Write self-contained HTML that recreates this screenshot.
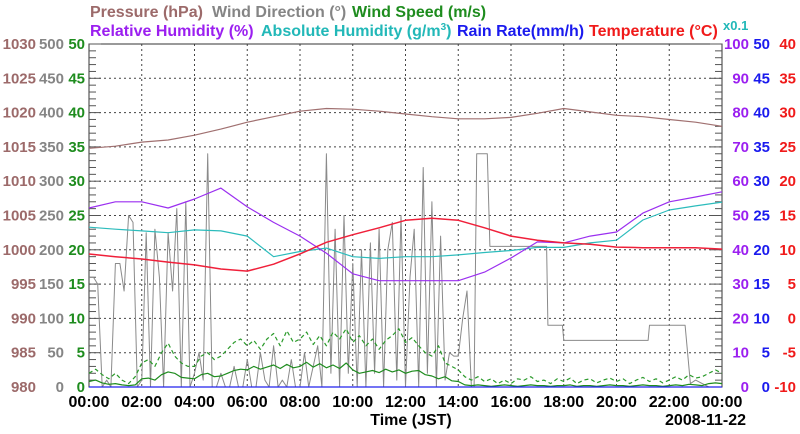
<!DOCTYPE html>
<html><head><meta charset="utf-8"><style>
html,body{margin:0;padding:0;background:#fff;}
svg{display:block;font-family:"Liberation Sans",sans-serif;font-weight:bold;}
</style></head><body>
<svg id="chart" width="800" height="434" viewBox="0 0 800 434">
<g font-size="16">
<text x="90" y="17" fill="#9c6a6a">Pressure (hPa)</text>
<text x="212" y="17" fill="#858585">Wind Direction (°)</text>
<text x="352" y="17" fill="#1e8c1e">Wind Speed (m/s)</text>
</g>
<g font-size="16">
<text x="90" y="36" fill="#9b1ff0">Relative Humidity (%)</text>
<text x="261" y="36" fill="#22b8b8">Absolute Humidity (g/m<tspan dy="-6" font-size="10">3</tspan><tspan dy="6">)</tspan></text>
<text x="457" y="36" fill="#1a1aee">Rain Rate(mm/h)</text>
<text x="589" y="36" fill="#f01a1a">Temperature (°C)</text>
<text x="723" y="30" fill="#22b8b8" font-size="13">x0.1</text>
</g>
<g id="grid"></g>
<g id="axes"></g>
<g id="series"></g>
<g id="labels" font-size="15"></g>
<text x="411" y="425" text-anchor="middle" font-size="16" fill="#000">Time (JST)</text>
<text x="746" y="425" text-anchor="end" font-size="16" fill="#000">2008-11-22</text>
</svg>
<script>
const hours = [0,1,2,3,4,5,6,7,8,9,10,11,12,13,14,15,16,17,18,19,20,21,22,23,24];
const pressure = [1014.8,1015.1,1015.7,1016.0,1016.7,1017.6,1018.6,1019.4,1020.2,1020.6,1020.5,1020.2,1019.8,1019.4,1019.1,1019.1,1019.3,1019.9,1020.6,1020.1,1019.6,1019.4,1019.0,1018.6,1018.0];
const relHumidity = [52.2,54,54,52.2,54.8,58,52.5,48,44,39,33,31,31,31,31,33.5,37.6,42.3,42,44,45.2,50.7,54,55.4,56.9];
const absHumidity = [4.66,4.6,4.55,4.5,4.58,4.55,4.4,3.8,3.95,4.05,3.8,3.75,3.8,3.8,3.85,3.92,3.98,4.07,4.07,4.2,4.28,4.87,5.16,5.28,5.39];
const temperature = [9.39,9.0,8.66,8.2,7.8,7.2,6.9,7.9,9.4,11.1,12.2,13.2,14.3,14.6,14.3,13.2,12.0,11.4,11.0,10.8,10.4,10.3,10.3,10.3,10.1];
const rainRate = [0,0,0,0,0,0,0,0,0,0,0,0,0,0,0,0,0,0,0,0,0,0,0,0,0];
const windTimes = [0,0.17,0.33,0.5,0.67,0.83,1.0,1.17,1.33,1.5,1.67,1.83,2.0,2.17,2.33,2.5,2.67,2.83,3.0,3.17,3.33,3.5,3.67,3.83,4.0,4.17,4.33,4.5,4.67,4.83,5.0,5.17,5.33,5.5,5.67,5.83,6.0,6.17,6.33,6.5,6.67,6.83,7.0,7.17,7.33,7.5,7.67,7.83,8.0,8.17,8.33,8.5,8.67,8.83,9.0,9.17,9.33,9.5,9.67,9.83,10.0,10.17,10.33,10.5,10.67,10.83,11.0,11.17,11.33,11.5,11.67,11.83,12.0,12.17,12.33,12.5,12.67,12.83,13.0,13.17,13.33,13.5,13.67,13.83,14.0,14.17,14.33,14.5,14.6,14.7,15.1,15.2,17.35,17.4,17.95,18.0,21.2,21.25,22.6,22.8,23.0,23.5,24.0];
const windDir = [160,160,150,0,10,0,180,180,140,250,240,0,10,225,0,230,160,0,225,140,260,0,270,0,20,50,10,340,0,0,20,0,0,30,0,0,40,0,0,50,10,0,60,0,10,0,40,0,0,50,0,30,60,0,340,20,230,0,250,20,180,0,200,0,210,20,230,0,200,240,10,250,0,160,230,0,320,20,270,0,220,10,50,45,45,100,140,0,0,340,340,205,205,90,90,68,68,90,90,5,10,0,0];
const speedTimes = Array.from({length:97},(_,i)=>i*0.25);
const windSpeedAvg = [0.8,1.0,0.6,0.4,0.5,0.3,0.2,0.3, 1.2,1.3,1.0,1.8,2.2,2.0,1.4,1.3, 1.2,1.8,2.0,1.5,1.6,2.0,2.4,2.6, 2.5,3.0,2.6,2.9,3.2,2.7,3.3,2.8, 3.0,3.6,2.9,3.4,2.8,3.2,2.7,3.5, 2.5,2.0,2.2,2.4,2.1,2.6,2.2,2.5, 2.0,2.3,2.4,1.8,1.6,1.2,1.5,0.9, 0.8,0.3,0.2,0.3,0.2,0.1,0.2,0.3, 0.2,0.1,0.2,0.3,0.2,0.2,0.1,0.2, 0.2,0.3,0.1,0.2,0.2,0.1,0.2,0.3, 0.2,0.2,0.1,0.2,0.3,0.2,0.2,0.1, 0.2,0.3,0.2,0.4,0.3,0.2,0.5,0.6, 0.5];
const windSpeedMax = [2.0,2.6,1.8,1.2,2.0,1.0,0.5,1.5, 3.5,4.0,3.0,5.0,6.4,4.5,3.5,3.0, 3.0,4.5,5.0,4.0,4.5,5.5,6.5,7.0, 6.0,6.8,5.5,7.0,7.8,6.0,8.2,6.5, 7.0,8.0,6.2,7.5,6.0,8.0,7.0,8.5, 6.5,7.5,6.0,7.0,5.5,6.8,7.5,8.5, 6.5,7.2,6.0,5.0,4.5,6.0,3.5,3.0, 2.5,1.5,1.0,1.5,0.8,1.2,0.5,1.0, 0.5,1.2,1.0,1.5,0.8,1.0,0.5,1.2, 0.8,1.3,0.5,1.0,1.2,0.6,1.0,1.3, 0.8,1.2,0.5,1.0,1.4,0.8,1.2,0.6, 1.0,1.5,1.0,1.8,1.3,1.5,2.0,2.5, 2.0];
const xTickLabels = ["00:00","02:00","04:00","06:00","08:00","10:00","12:00","14:00","16:00","18:00","20:00","22:00","00:00"];
const pressTicks = [980,985,990,995,1000,1005,1010,1015,1020,1025,1030];
const dirTicks = [0,50,100,150,200,250,300,350,400,450,500];
const spdTicks = [0,5,10,15,20,25,30,35,40,45,50];
const rhTicks = [0,10,20,30,40,50,60,70,80,90,100];
const rainTicks = [0,5,10,15,20,25,30,35,40,45,50];
const tempTicks = [-10,-5,0,5,10,15,20,25,30,35,40];

const L=89,R=722,T=44,B=387,W=R-L,H=B-T;
const xs=h=>L+h/24*W;
const yPress=v=>B-(v-980)/50*H;
const yDir=v=>B-v/500*H;
const ySpd=v=>B-v/50*H;
const yPct=v=>B-v/100*H;
const yAH=v=>B-v*10/100*H;
const yTemp=v=>B-(v+10)/50*H;
const yRain=v=>B-v/50*H;
const NS="http://www.w3.org/2000/svg";
function mk(tag,attrs,parent){const e=document.createElementNS(NS,tag);for(const k in attrs)e.setAttribute(k,attrs[k]);parent.appendChild(e);return e;}
const grid=document.getElementById('grid'),axes=document.getElementById('axes'),series=document.getElementById('series'),labels=document.getElementById('labels');
for(let i=1;i<12;i++){const x=xs(i*2);const g=mk('line',{x1:x,y1:T,x2:x,y2:B,stroke:'#444','stroke-width':1,'stroke-dasharray':'2,3'},grid);

}
for(let i=1;i<10;i++){const y=B-i*H/10;const g=mk('line',{x1:L,y1:y,x2:R,y2:y,stroke:'#444','stroke-width':1,'stroke-dasharray':'2,3'},grid);

}
const frame=mk('rect',{x:L,y:T,width:W,height:H,fill:'none',stroke:'#333','stroke-width':1},axes);


for(let i=0;i<=50;i++){const y=B-i*H/50;const len=i%5===0?12:7;
const a=mk('line',{x1:L,y1:y,x2:L+len,y2:y,stroke:'#555','stroke-width':1},axes);


const b=mk('line',{x1:R-len,y1:y,x2:R,y2:y,stroke:'#555','stroke-width':1},axes);

}
function line(xsArr,ysArr,fx,fy,color,name,extra){const pts=xsArr.map((t,i)=>fx(t).toFixed(1)+','+fy(ysArr[i]).toFixed(1)).join(' ');
const p=mk('polyline',Object.assign({points:pts,fill:'none',stroke:color,'stroke-width':1.2,'stroke-linejoin':'round'},extra||{}),series);

}
line(windTimes,windDir,xs,yDir,'#8a8a8a','wind-direction-line',{'stroke-width':1});
line(speedTimes,windSpeedMax,xs,ySpd,'#2a9a2a','wind-speed-max-line',{'stroke-dasharray':'4,3'});
line(speedTimes,windSpeedAvg,xs,ySpd,'#1e8c1e','wind-speed-avg-line');
line(hours,pressure,xs,yPress,'#a07070','pressure-line');
line(hours,absHumidity,xs,yAH,'#2cbcbc','absolute-humidity-line');
line(hours,relHumidity,xs,yPct,'#9b2ff0','relative-humidity-line');
line(hours,temperature,xs,yTemp,'#f0203a','temperature-line',{'stroke-width':1.5});
line(hours,rainRate,xs,yRain,'#2020ee','rain-rate-line');
function tl(x,y,txt,color,anchor,name){const t=mk('text',{x:x,y:y,fill:color,'text-anchor':anchor},labels);t.textContent=txt;

}
for(let i=0;i<=10;i++){const y=B-i*H/10+5;
tl(36,y,String(pressTicks[i]),'#9c6a6a','end','pressure-tick');
tl(64,y,String(dirTicks[i]),'#858585','end','wind-direction-tick');
tl(85,y,String(spdTicks[i]),'#1e8c1e','end','wind-speed-tick');
tl(749,y,String(rhTicks[i]),'#9b1ff0','end','humidity-tick');
tl(770,y,String(rainTicks[i]),'#1a1aee','end','rain-rate-tick');
tl(796,y,String(tempTicks[i]),'#f01a1a','end','temperature-tick');}
xTickLabels.forEach((s,i)=>{const t=mk('text',{x:xs(i*2),y:407,'text-anchor':'middle','font-size':16,fill:'#000'},labels);t.textContent=s;

});
</script>
</body></html>
